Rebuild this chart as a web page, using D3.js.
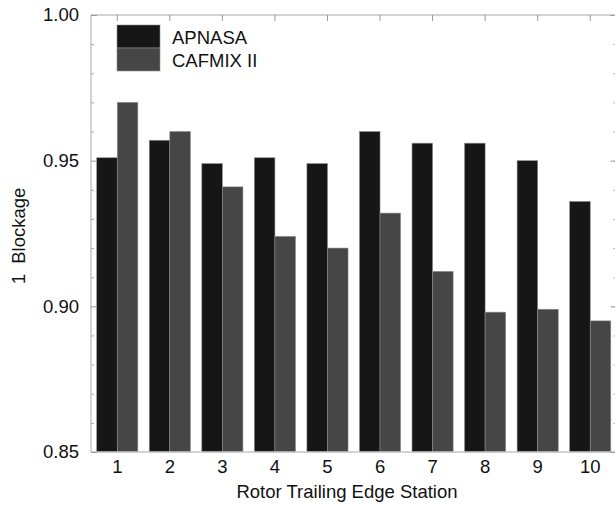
<!DOCTYPE html>
<html>
<head>
<meta charset="utf-8">
<script src="https://cdn.jsdelivr.net/npm/d3@7"></script>
<style>
  html, body { margin: 0; padding: 0; background: #fff; }
  svg { display: block; font-family: "Liberation Sans", Arial, Helvetica, sans-serif; }
</style>
</head>
<body>
<svg id="chart" width="615" height="506"></svg>
<script>
const categories = ["1", "2", "3", "4", "5", "6", "7", "8", "9", "10"];
const seriesNames = ["APNASA", "CAFMIX II"];
const apnasa = [0.951, 0.957, 0.949, 0.951, 0.949, 0.960, 0.956, 0.956, 0.950, 0.936];
const cafmix = [0.970, 0.960, 0.941, 0.924, 0.920, 0.932, 0.912, 0.898, 0.899, 0.895];
const yMajorTicks = [0.85, 0.90, 0.95, 1.00];
const yMinorTicks = d3.range(85, 101).map(v => v / 100);
const xLabel = "Rotor Trailing Edge Station";
const yLabel = "1  Blockage";

const colors = ["#161616", "#464646"];
const frame = "#c4c4c4";
const FS = 18.5;

const svg = d3.select("#chart");
const m = { left: 91, right: 616.5, top: 15, bottom: 452 };

const x = d3.scaleBand().domain(categories).range([m.left, m.right]).paddingInner(0).paddingOuter(0);
const inner = d3.scaleBand().domain(seriesNames).range([0, x.bandwidth()]).paddingInner(0).paddingOuter(0.278);
const y = d3.scaleLinear().domain([0.85, 1.00]).range([m.bottom, m.top]);

const data = categories.map((c, i) => ({ c, vals: [apnasa[i], cafmix[i]] }));

// bars
const g = svg.append("g");
data.forEach(d => {
  d.vals.forEach((v, j) => {
    g.append("rect")
      .attr("x", x(d.c) + inner(seriesNames[j]))
      .attr("width", inner.bandwidth())
      .attr("y", y(v))
      .attr("height", y(0.85) - y(v))
      .attr("fill", colors[j])
      .attr("stroke", "#8c8c8c")
      .attr("stroke-width", 0.6);
  });
});

// frame lines
const fr = svg.append("g").attr("stroke", frame).attr("stroke-width", 1.5).attr("fill", "none");
fr.append("line").attr("x1", m.left).attr("x2", m.left).attr("y1", m.top).attr("y2", m.bottom);
fr.append("line").attr("x1", m.left).attr("x2", m.right).attr("y1", m.top).attr("y2", m.top);
fr.append("line").attr("x1", m.left).attr("x2", m.right).attr("y1", m.bottom).attr("y2", m.bottom);
fr.append("line").attr("x1", m.right).attr("x2", m.right).attr("y1", m.top).attr("y2", m.bottom);

// left axis (inward ticks)
const yAxisL = svg.append("g").attr("transform", `translate(${m.left},0)`)
  .call(d3.axisLeft(y).tickValues(yMajorTicks).tickSize(-6).tickPadding(12).tickFormat(d3.format(".2f")));
yAxisL.select(".domain").remove();
yAxisL.selectAll(".tick line").attr("stroke", "#999").attr("stroke-width", 1);
yAxisL.selectAll(".tick text").attr("font-size", FS).attr("fill", "#111").attr("font-family", "Liberation Sans, Arial, sans-serif");

const yMinL = svg.append("g").attr("transform", `translate(${m.left},0)`)
  .call(d3.axisLeft(y).tickValues(yMinorTicks.filter(v => !yMajorTicks.some(t => Math.abs(t - v) < 1e-9))).tickSize(-3).tickFormat(""));
yMinL.select(".domain").remove();
yMinL.selectAll(".tick line").attr("stroke", "#aaa").attr("stroke-width", 1);

// right axis (inward ticks)
const yAxisR = svg.append("g").attr("transform", `translate(${m.right},0)`)
  .call(d3.axisRight(y).tickValues(yMajorTicks).tickSize(-6).tickFormat(""));
yAxisR.select(".domain").remove();
yAxisR.selectAll(".tick line").attr("stroke", "#999");
const yMinR = svg.append("g").attr("transform", `translate(${m.right},0)`)
  .call(d3.axisRight(y).tickValues(yMinorTicks).tickSize(-3).tickFormat(""));
yMinR.select(".domain").remove();
yMinR.selectAll(".tick line").attr("stroke", "#aaa");

// top axis (inward ticks)
const xAxisT = svg.append("g").attr("transform", `translate(0,${m.top})`)
  .call(d3.axisTop(x).tickSize(-6).tickFormat(""));
xAxisT.select(".domain").remove();
xAxisT.selectAll(".tick line").attr("stroke", "#999");

// bottom axis labels
const xAxisB = svg.append("g").attr("transform", `translate(0,${m.bottom})`)
  .call(d3.axisBottom(x).tickSize(0).tickPadding(8));
xAxisB.select(".domain").remove();
xAxisB.selectAll(".tick text").attr("font-size", FS).attr("fill", "#111").attr("font-family", "Liberation Sans, Arial, sans-serif");

// axis titles
svg.append("text")
  .attr("x", 347).attr("y", 498)
  .attr("text-anchor", "middle").attr("font-size", FS).attr("fill", "#111")
  .text(xLabel);
svg.append("text")
  .attr("transform", "translate(25,236) rotate(-90)")
  .attr("text-anchor", "middle").attr("font-size", FS).attr("fill", "#111")
  .style("white-space", "pre")
  .text(yLabel);

// legend
const lg = svg.append("g");
seriesNames.forEach((s, i) => {
  lg.append("rect").attr("x", 117).attr("y", 25 + i * 23).attr("width", 43).attr("height", 23)
    .attr("fill", colors[i]).attr("stroke", "#8c8c8c").attr("stroke-width", 0.6);
  lg.append("text").attr("x", 172).attr("y", 44 + i * 23)
    .attr("font-size", FS).attr("fill", "#111").text(s);
});
</script>
</body>
</html>
